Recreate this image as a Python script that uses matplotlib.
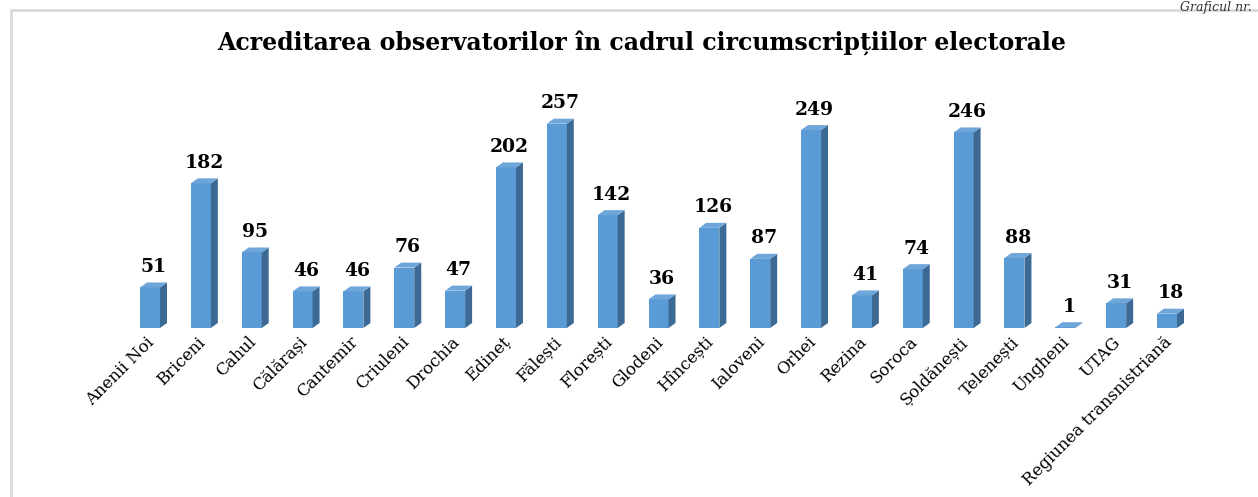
import numpy as np
import matplotlib
matplotlib.use('Agg')
import matplotlib.pyplot as plt
from matplotlib.patches import Polygon, Rectangle

matplotlib.rcParams.update({'font.family': 'DejaVu Serif'})

########
districts = ['Anenii Noi', 'Briceni', 'Cahul', 'Călărași', 'Cantemir', 'Criuleni',
             'Drochia', 'Edineț', 'Fălești', 'Florești', 'Glodeni', 'Hîncești',
             'Ialoveni', 'Orhei', 'Rezina', 'Soroca', 'Șoldănești', 'Telenești',
             'Ungheni', 'UTAG', 'Regiunea transnistriană']
observers = [51, 182, 95, 46, 46, 76, 47, 202, 257, 142, 36, 126,
             87, 249, 41, 74, 246, 88, 1, 31, 18]
title = 'Acreditarea observatorilor în cadrul circumscripțiilor electorale'

W, H = 1258, 497
fig = plt.figure(figsize=(W / 100, H / 100), dpi=100)

# light frame of the original document
fig.patches.append(Rectangle((11 / W, -0.05), 1.1, (H - 10) / H + 0.05,
                             transform=fig.transFigure, fill=False,
                             edgecolor='#d9d9d9', lw=2))
fig.text(1252 / W, (H - 1) / H, 'Graficul nr.', ha='right', va='top',
         fontsize=9, style='italic', color='#333333')

# axes placed in pixels
x0, step, base, top = 150, 50.85, 328, 80
left_px, right_px = 100, 1230
xl = ((left_px - x0) / step, (right_px - x0) / step)
ytop = 312
ax = fig.add_axes([left_px / W, (H - base) / H, (right_px - left_px) / W, (base - top) / H])
ax.set_xlim(*xl)
ax.set_ylim(0, ytop)
ax.axis('off')

px_per_unit = (base - top) / ytop
bw = 20 / step
dx = 7 / step
dy = 5 / px_per_unit
front = '#5b9bd5'
side = '#3d6a94'
topc = '#6ea6da'

x = np.arange(len(districts))
ax.bar(x, observers, width=bw, color=front, edgecolor='none', zorder=2)
for xi, v, name in zip(x, observers, districts):
    l, r = xi - bw / 2, xi + bw / 2
    ax.add_patch(Polygon([(r, 0), (r + dx, dy), (r + dx, v + dy), (r, v)],
                         closed=True, facecolor=side, edgecolor='none', zorder=2))
    ax.add_patch(Polygon([(l, v), (l + dx, v + dy), (r + dx, v + dy), (r, v)],
                         closed=True, facecolor=topc, edgecolor='none', zorder=2))
    ax.text(xi + dx / 2, v + dy + 8, str(v), ha='center', va='bottom',
            fontsize=13.5, fontweight='bold', clip_on=False)
    ax.text(xi - 0.08, -7, name, rotation=45,
            rotation_mode='anchor', ha='right', va='top', fontsize=12, clip_on=False)

fig.text(642 / W, (H - 43) / H, title, ha='center', va='center',
         fontsize=17, fontweight='bold')

plt.savefig('out.png', dpi=100)
